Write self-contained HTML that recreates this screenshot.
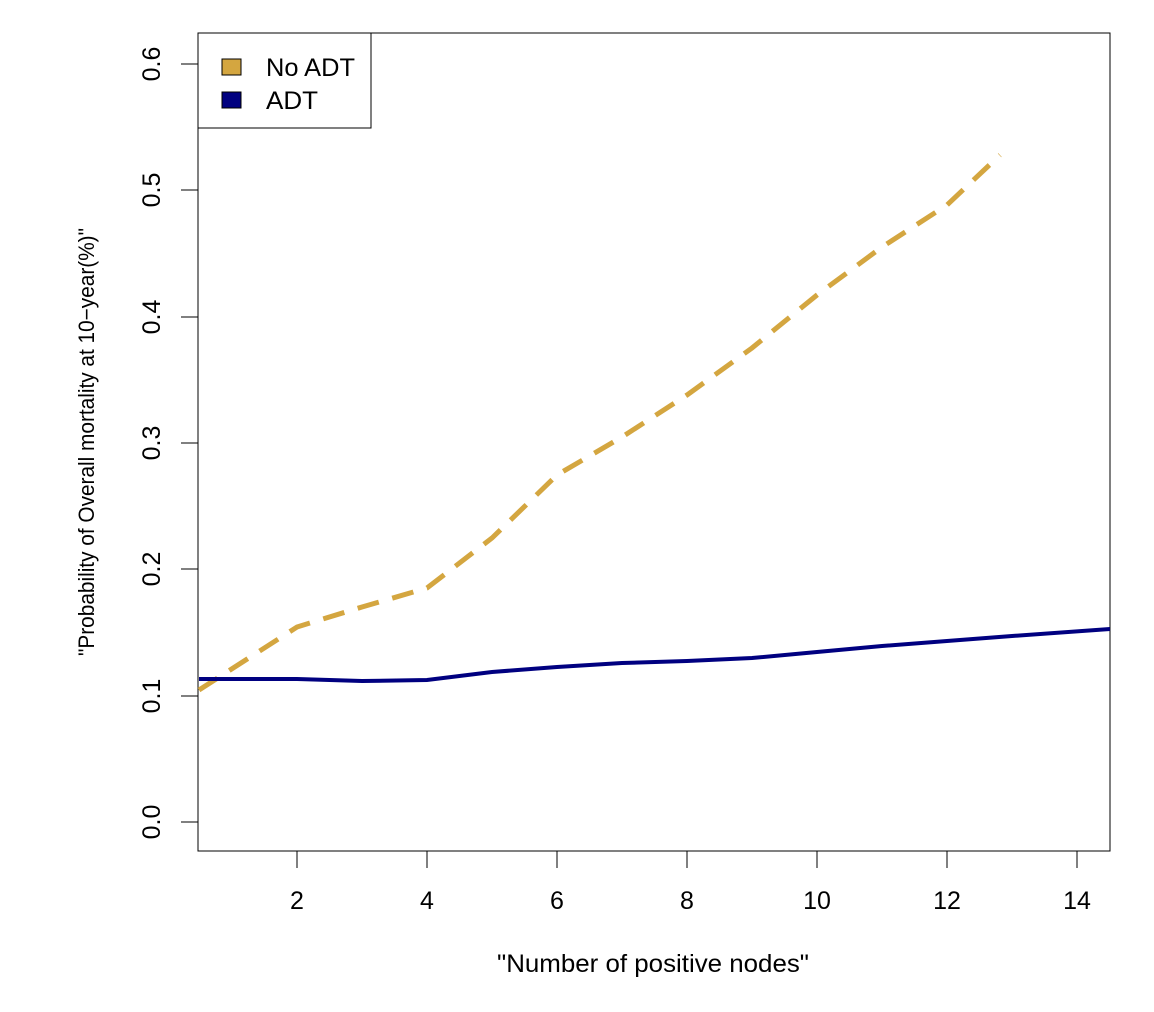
<!DOCTYPE html>
<html><head><style>body{margin:0;background:#fff}svg{display:block}text{font-family:"Liberation Sans",sans-serif;fill:#000}</style></head>
<body>
<svg width="1154" height="1012" viewBox="0 0 1154 1012">
<rect x="198" y="33" width="912" height="818" fill="none" stroke="#000" stroke-width="1"/>
<g stroke="#000" stroke-width="1">
<line x1="297" y1="851" x2="1077" y2="851"/>
<line x1="297" y1="851" x2="297" y2="868"/><line x1="427" y1="851" x2="427" y2="868"/><line x1="557" y1="851" x2="557" y2="868"/><line x1="687" y1="851" x2="687" y2="868"/><line x1="817" y1="851" x2="817" y2="868"/><line x1="947" y1="851" x2="947" y2="868"/><line x1="1077" y1="851" x2="1077" y2="868"/>
<line x1="198" y1="822" x2="198" y2="64"/>
<line x1="181" y1="822" x2="198" y2="822"/><line x1="181" y1="696" x2="198" y2="696"/><line x1="181" y1="569" x2="198" y2="569"/><line x1="181" y1="443" x2="198" y2="443"/><line x1="181" y1="317" x2="198" y2="317"/><line x1="181" y1="190" x2="198" y2="190"/><line x1="181" y1="64" x2="198" y2="64"/>
</g>
<g font-size="25" text-anchor="middle">
<text x="297" y="909">2</text><text x="427" y="909">4</text><text x="557" y="909">6</text><text x="687" y="909">8</text><text x="817" y="909">10</text><text x="947" y="909">12</text><text x="1077" y="909">14</text>
<text transform="translate(160,822) rotate(-90)">0.0</text>
<text transform="translate(160,696) rotate(-90)">0.1</text>
<text transform="translate(160,569) rotate(-90)">0.2</text>
<text transform="translate(160,443) rotate(-90)">0.3</text>
<text transform="translate(160,317) rotate(-90)">0.4</text>
<text transform="translate(160,190) rotate(-90)">0.5</text>
<text transform="translate(160,64) rotate(-90)">0.6</text>
<text x="653" y="972" textLength="312" lengthAdjust="spacingAndGlyphs">"Number of positive nodes"</text>
<text transform="translate(94,442) rotate(-90)" font-size="22" textLength="428" lengthAdjust="spacingAndGlyphs">"Probability of Overall mortality at 10−year(%)"</text>
</g>
<polyline fill="none" stroke="#D4A640" stroke-width="5" stroke-dasharray="22,14" points="199,690 297,627 362,607 427,588 492,538 557,475 622,437 687,395 752,348 817,295 882,247 947,205 1000,155"/>
<polyline fill="none" stroke="#000080" stroke-width="4" points="199,679 297,679 362,681 427,680 492,672 557,667 622,663 687,661 752,658 817,652 882,646 947,641 1012,636 1110,629"/>
<rect x="198" y="33" width="173" height="95" fill="#fff" stroke="#000" stroke-width="1"/>
<rect x="222" y="59" width="19" height="16" fill="#D4A640" stroke="#000" stroke-width="1"/>
<rect x="222" y="92" width="19" height="16" fill="#000080" stroke="#000" stroke-width="1"/>
<text x="266" y="76" font-size="25" textLength="89" lengthAdjust="spacingAndGlyphs">No ADT</text>
<text x="266" y="109" font-size="25" textLength="52" lengthAdjust="spacingAndGlyphs">ADT</text>
</svg>
</body></html>
